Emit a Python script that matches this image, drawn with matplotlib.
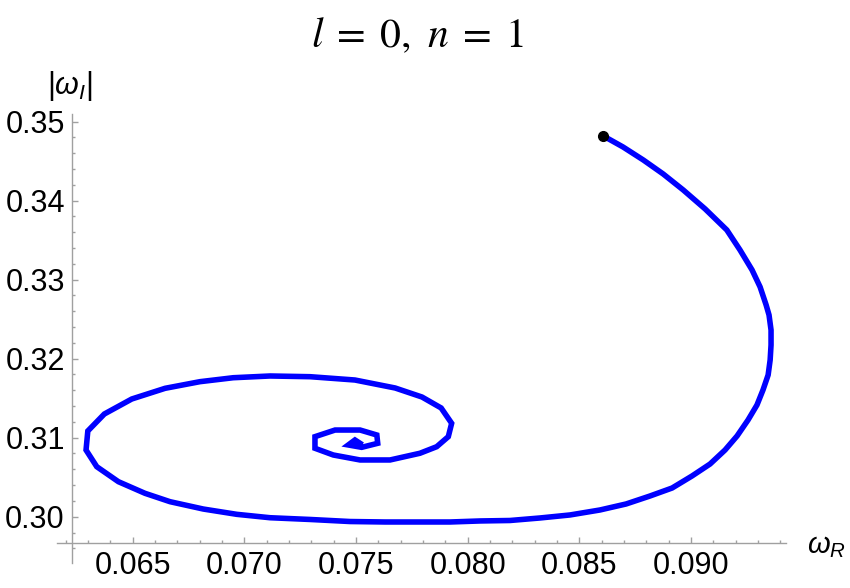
import numpy as np
import matplotlib
matplotlib.use("Agg")
import matplotlib.pyplot as plt
from matplotlib.ticker import MultipleLocator, FormatStrFormatter

# Data (omega_R, |omega_I|)
omegaR = [0.08607, 0.08695, 0.08786, 0.08875, 0.08965, 0.09063, 0.09160, 0.09219,
          0.09273, 0.09309, 0.09336, 0.09349, 0.09358, 0.09358, 0.09354, 0.09345,
          0.09322, 0.09295, 0.09255, 0.09206, 0.09152, 0.09085, 0.09004, 0.08915,
          0.08816, 0.08709, 0.08592, 0.08458, 0.08324, 0.08189, 0.08055, 0.07921,
          0.07786, 0.07630, 0.07473, 0.07294, 0.07115, 0.06966, 0.06816, 0.06667,
          0.06555, 0.06436, 0.06339, 0.06291, 0.06299, 0.06373, 0.06496, 0.06645,
          0.06801, 0.06950, 0.07115, 0.07294, 0.07495, 0.07675, 0.07795, 0.07881,
          0.07928, 0.07913, 0.07861, 0.07786, 0.07652, 0.07518, 0.07398, 0.07316,
          0.07316, 0.07406, 0.07518, 0.07593, 0.07597, 0.07525, 0.07465, 0.07495,
          0.07518]
omegaI = [0.34819, 0.34680, 0.34515, 0.34338, 0.34135, 0.33895, 0.33629, 0.33376,
          0.33123, 0.32908, 0.32680, 0.32553, 0.32363, 0.32173, 0.31984, 0.31794,
          0.31604, 0.31414, 0.31224, 0.31022, 0.30844, 0.30667, 0.30515, 0.30363,
          0.30262, 0.30161, 0.30085, 0.30022, 0.29984, 0.29952, 0.29946, 0.29933,
          0.29933, 0.29933, 0.29939, 0.29965, 0.29987, 0.30030, 0.30097, 0.30190,
          0.30296, 0.30443, 0.30633, 0.30844, 0.31085, 0.31300, 0.31490, 0.31625,
          0.31709, 0.31759, 0.31781, 0.31772, 0.31730, 0.31629, 0.31515, 0.31376,
          0.31182, 0.31013, 0.30886, 0.30803, 0.30718, 0.30718, 0.30781, 0.30866,
          0.31013, 0.31097, 0.31097, 0.31034, 0.30929, 0.30878, 0.30908, 0.30971,
          0.30929]

xTicks = [0.065, 0.070, 0.075, 0.080, 0.085, 0.090]
yTicks = [0.30, 0.31, 0.32, 0.33, 0.34, 0.35]

plt.rcParams['font.family'] = ['Liberation Sans', 'DejaVu Sans']
plt.rcParams['mathtext.fontset'] = 'custom'
plt.rcParams['mathtext.rm'] = 'Liberation Sans'
plt.rcParams['mathtext.it'] = 'Liberation Sans:italic'

fig = plt.figure(figsize=(8.5, 5.88), dpi=100)
ax = fig.add_axes([0.06706, 0.04252, 0.85765, 0.76361])

ax.plot(omegaR, omegaI, color='#0000ff', lw=4, solid_joinstyle='miter', zorder=2)
ax.plot(omegaR[0], omegaI[0], 'o', color='black', ms=7, zorder=3)

ax.set_xlim(0.06161, 0.09425)
ax.set_ylim(0.29414, 0.35097)

# Mathematica-like crossing axes
for s in ['top', 'right']:
    ax.spines[s].set_visible(False)
ax.spines['left'].set_position(('data', 0.06227))
ax.spines['bottom'].set_position(('data', 0.29673))
for s in ['left', 'bottom']:
    ax.spines[s].set_color('#a0a0a0')
    ax.spines[s].set_linewidth(1.0)

ax.set_xticks(xTicks)
ax.set_yticks(yTicks)
ax.xaxis.set_major_formatter(FormatStrFormatter('%.3f'))
ax.yaxis.set_major_formatter(FormatStrFormatter('%.2f'))
ax.xaxis.set_minor_locator(MultipleLocator(0.001))
ax.yaxis.set_minor_locator(MultipleLocator(0.002))
ax.tick_params(which='both', direction='in', color='#a0a0a0', width=1.0, labelsize=22)
ax.tick_params(which='major', length=4.5)
ax.tick_params(which='minor', length=2.4)
ax.tick_params(axis='x', which='major', pad=6)
ax.tick_params(axis='y', which='major', pad=5)

fig.text(826 / 850, 1 - 546 / 588, r'$\omega_R$', fontsize=21, ha='center', va='center')
fig.text(70 / 850, 1 - 86 / 588, r'$|\omega_I|$', fontsize=22, ha='center', va='center')
fig.text(417 / 850, 1 - 36 / 588, r'$l\;=\;0,\ n\;=\;1$', math_fontfamily='stix',
         fontsize=30, ha='center', va='center')

fig.savefig('out.png', dpi=100)
